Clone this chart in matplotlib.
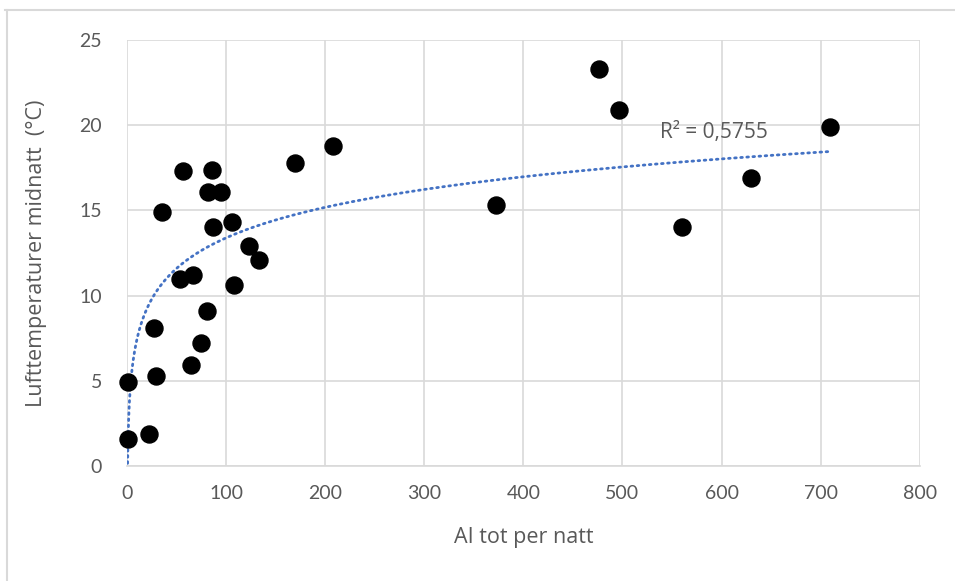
import numpy as np
import matplotlib
matplotlib.use("Agg")
import matplotlib.pyplot as plt

plt.rcParams["font.family"] = ["Lato", "DejaVu Sans"]

# Data
al_tot = [0.6, 0.8, 22, 27, 29, 35, 53, 57, 65, 67, 75, 81, 82, 86, 87, 95,
          106, 108, 123, 133, 170, 208, 372, 476, 497, 560, 630, 710]
temp = [1.6, 4.9, 1.9, 8.1, 5.3, 14.9, 11.0, 17.3, 5.9, 11.2, 7.2, 9.1, 16.1,
        17.4, 14.0, 16.1, 14.3, 10.6, 12.9, 12.1, 17.8, 18.8, 15.3, 23.3,
        20.9, 14.0, 16.9, 19.9]
x_ticks = [0, 100, 200, 300, 400, 500, 600, 700, 800]
y_ticks = [0, 5, 10, 15, 20, 25]
r2_label = "R² = 0,5755"

GRID = "#d9d9d9"
TXT = "#595959"
LABEL_FONT = ["Open Sans", "DejaVu Sans"]

fig = plt.figure(figsize=(9.55, 5.81), dpi=100)
# outer chart frame (Excel style)
fig.add_artist(plt.Line2D([0.005, 1.0], [0.983, 0.983], color=GRID, lw=1.5))
fig.add_artist(plt.Line2D([0.007, 0.007], [0.0, 0.983], color=GRID, lw=1.5))

ax = fig.add_axes([0.133, 0.198, 0.830, 0.733])

# logarithmic trendline, fitted like Excel does
x = np.asarray(al_tot, dtype=float)
y = np.asarray(temp, dtype=float)
a, b = np.polyfit(np.log(x), y, 1)
xs = np.linspace(x.min(), x.max(), 2000)
ax.plot(xs, a * np.log(xs) + b, color="#4472c4", lw=2.0,
        linestyle=(0, (0.6, 1.6)), dash_capstyle="round", zorder=2)

ax.scatter(al_tot, temp, s=150, color="black", zorder=3, clip_on=False)

ax.text(538, 19.6, r2_label, fontsize=15, color=TXT, va="center", ha="left",
        family=LABEL_FONT)

ax.set_xlim(0, 800)
ax.set_ylim(0, 25)
ax.set_xticks(x_ticks)
ax.set_yticks(y_ticks)
ax.grid(True, color=GRID, lw=1.2)
ax.set_axisbelow(True)
for side in ["top", "right", "left"]:
    ax.spines[side].set_visible(False)
ax.spines["bottom"].set_color(GRID)
ax.spines["bottom"].set_linewidth(1.2)
ax.tick_params(length=0, labelsize=14, colors=TXT)
ax.tick_params(axis="x", pad=14)
ax.tick_params(axis="y", pad=18)

ax.set_xlabel("AI tot per natt", fontsize=15.5, color=TXT, labelpad=18,
              family=LABEL_FONT)
ax.set_ylabel("Lufttemperaturer midnatt  (°C)", fontsize=15.5, color=TXT,
              labelpad=23, family=LABEL_FONT)

fig.savefig("out.png", dpi=100)
